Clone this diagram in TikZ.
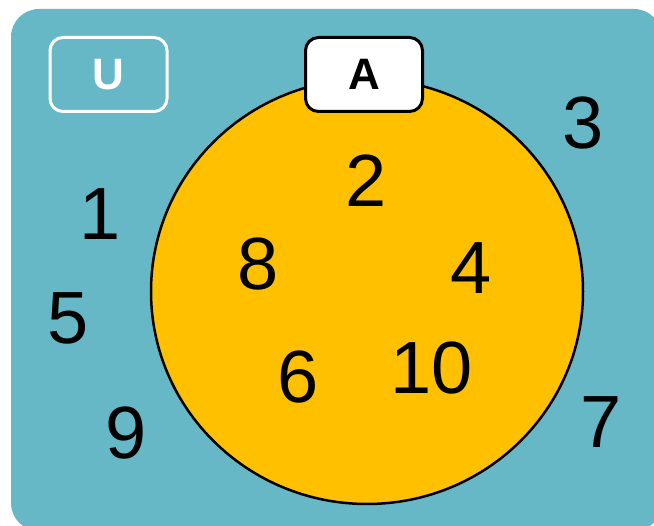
\documentclass[tikz,border=0pt]{standalone}
\usepackage{fontspec}
\setmainfont{Liberation Sans}
\usetikzlibrary{shapes.geometric}
\definecolor{venteal}{HTML}{67B8C7}
\definecolor{setyellow}{HTML}{FFC000}

\begin{document}
\begin{tikzpicture}[x=1pt, y=-1pt,
  every node/.style={font=\fontsize{74}{74}\selectfont},
  elem/.style={inner sep=0pt},
  setbox/.style={draw, rounded corners=13pt, minimum width=117pt,
    minimum height=74pt, line width=3pt,
    font=\fontsize{44}{44}\selectfont\bfseries}]
\useasboundingbox (0,0) rectangle (654,526);
% universe
\fill[venteal, rounded corners=28pt] (11,9) rectangle (662,531);
\node[ellipse, draw, fill=setyellow, line width=2.5pt, inner sep=0pt,
      minimum width=432pt, minimum height=425pt] (setA) at (367,291.5) {};
\node[setbox, fill=white] (labA) at (364,74.5) {A};
\node[setbox, draw=white, text=white, fill=venteal] (labU) at (108.5,74.5) {U};
% elements inside A
\node[elem] (e2) at (366,181) {2};
\node[elem] (e4) at (471,268) {4};
\node[elem] (e6) at (298,377) {6};
\node[elem] (e8) at (258,264) {8};
\node[elem] (e10) at (432,368) {10};
% elements outside A
\node[elem] (e1) at (100,214) {1};
\node[elem] (e3) at (583,123) {3};
\node[elem] (e5) at (68,318) {5};
\node[elem] (e7) at (601,422) {7};
\node[elem] (e9) at (126,433) {9};
\end{tikzpicture}
\end{document}
